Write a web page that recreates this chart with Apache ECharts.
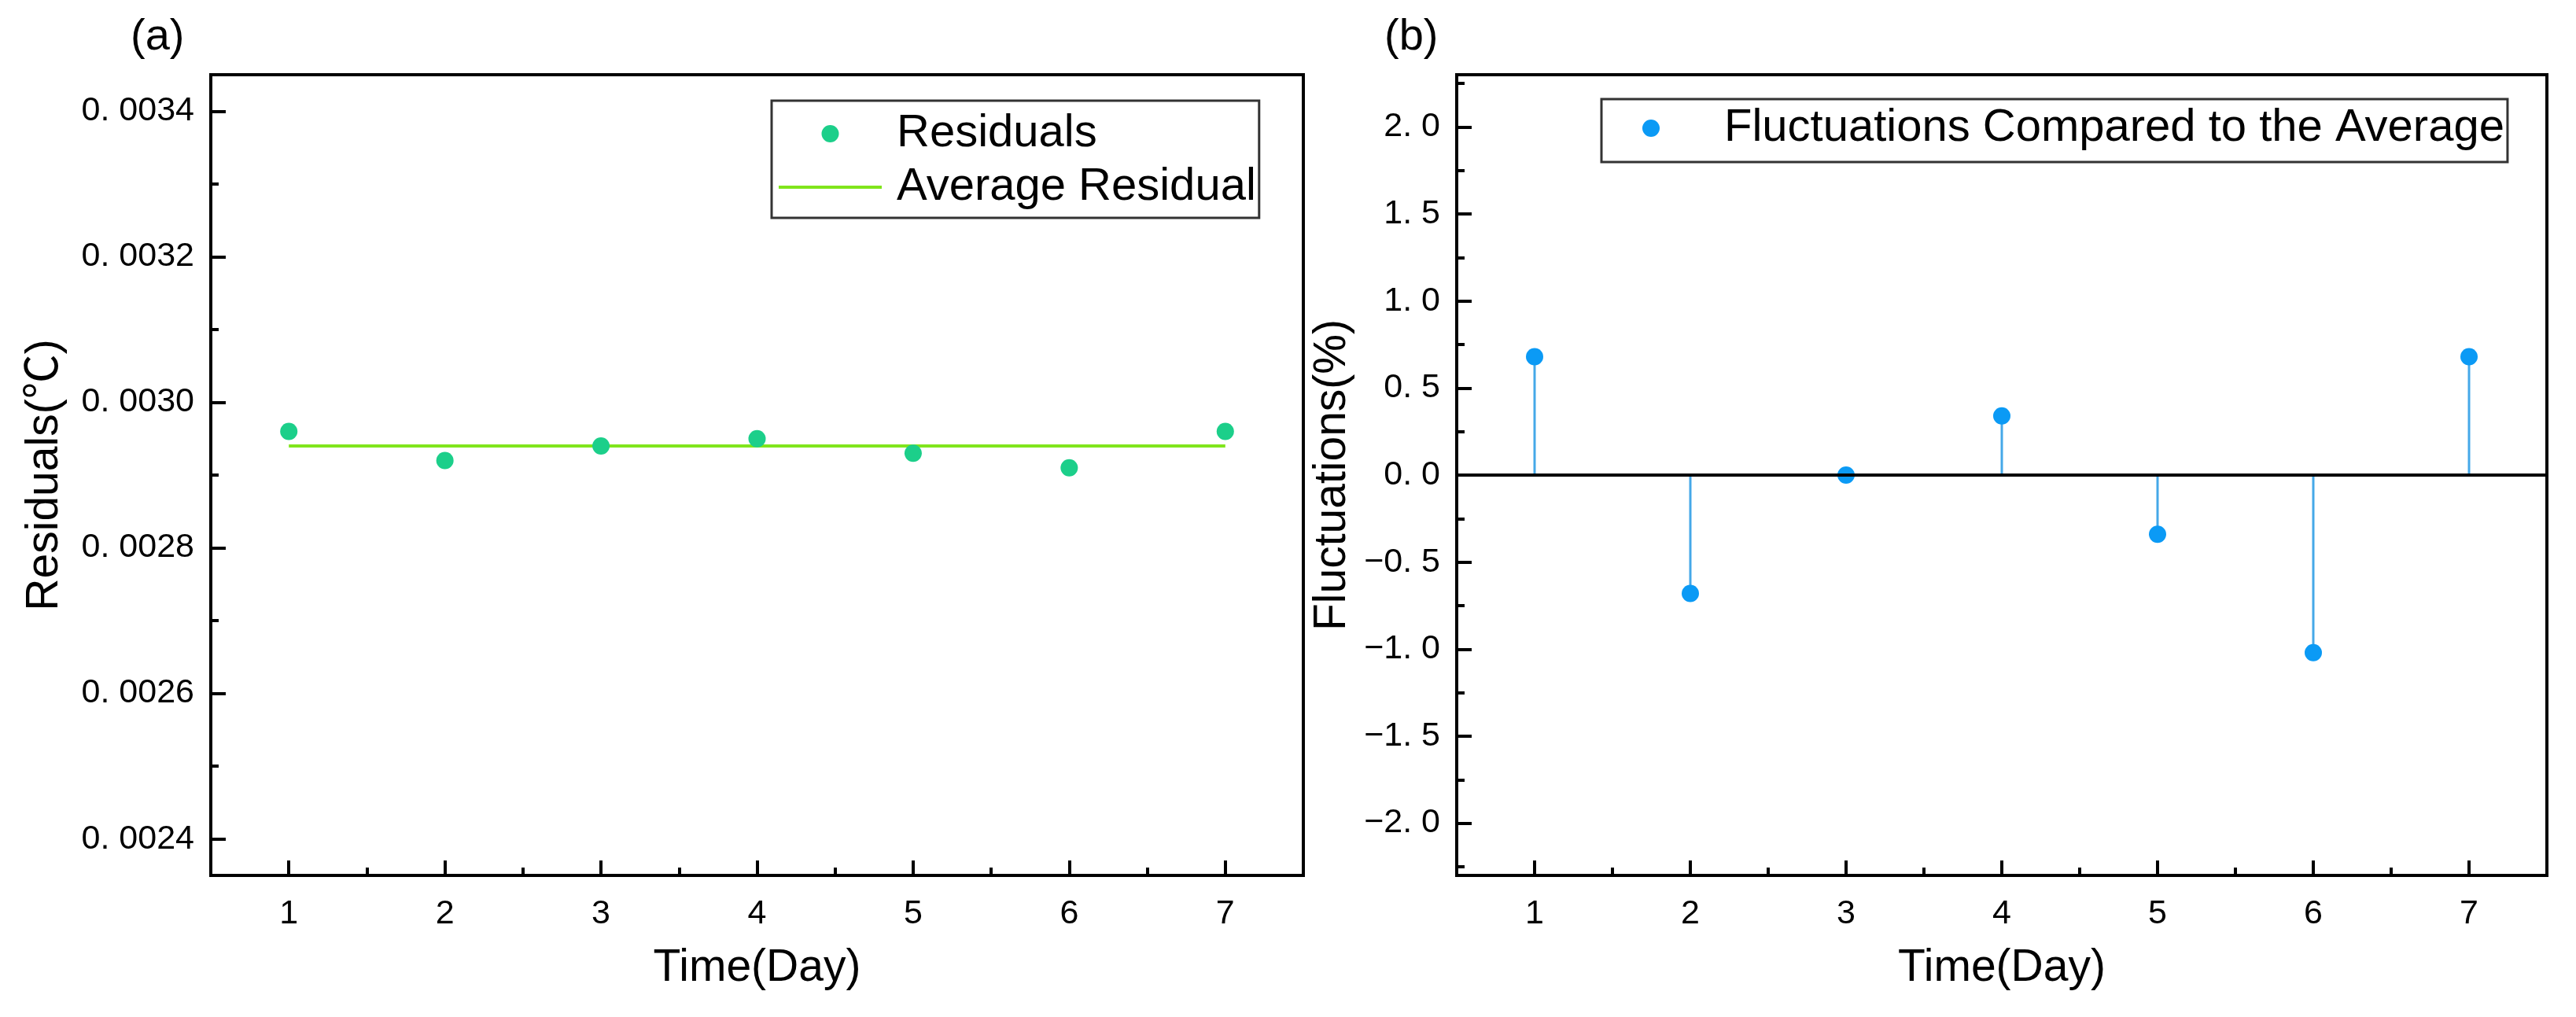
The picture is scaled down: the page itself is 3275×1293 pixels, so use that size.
<!DOCTYPE html>
<html><head><meta charset="utf-8">
<script src="https://cdn.jsdelivr.net/npm/echarts@6/dist/echarts.min.js"></script>
<style>html,body{margin:0;padding:0;background:#fff}#c{width:3275px;height:1293px}</style>
</head><body><div id="c"></div>
<script>
// ---- data ----
const days = [1, 2, 3, 4, 5, 6, 7];
const residuals = [0.00296, 0.00292, 0.00294, 0.00295, 0.00293, 0.00291, 0.00296];
const averageResidual = 0.00294;
const fluctuations = [0.68, -0.68, 0, 0.34, -0.34, -1.02, 0.68];
const xRange = [0.5, 7.5];
const xSteps = [1, 0.5];              // major, minor
const residualRange = [0.00235, 0.00345];
const residualSteps = [0.0002, 0.0001];
const fluctRange = [-2.3, 2.3];
const fluctSteps = [0.5, 0.25];

const FONT = "'Liberation Sans', Arial, 'Noto Sans CJK SC', sans-serif";
const BLACK = '#000';
const TICK_FONT = 43;
function isMultiple(v, step) { const r = v / step; return Math.abs(r - Math.round(r)) < 1e-6; }
function fmtResidual(v) { return isMultiple(v, residualSteps[0]) ? v.toFixed(4).replace('.', '. ') : ''; }
function fmtFluct(v) { if (!isMultiple(v, fluctSteps[0])) return ''; let s = (Math.abs(v) < 1e-9 ? 0 : v).toFixed(1).replace('.', '. '); return s.replace('-', '\u2212'); }
function fmtDay(v) { return isMultiple(v, xSteps[0]) ? String(Math.round(v)) : ''; }

function majorX(gridIndex, name) {
  return {
    type: 'value', gridIndex, position: 'bottom', min: xRange[0], max: xRange[1],
    minInterval: xSteps[0], maxInterval: xSteps[0], splitNumber: 7,
    name, nameLocation: 'middle', nameGap: 90,
    nameTextStyle: { fontSize: 57, color: BLACK, fontFamily: FONT },
    axisLine: { show: true, onZero: false, lineStyle: { color: BLACK, width: 4 } },
    axisTick: { show: true, inside: true, length: 19, lineStyle: { color: BLACK, width: 4 } },
    axisLabel: { show: true, margin: 28, fontSize: TICK_FONT, color: BLACK, fontFamily: FONT, formatter: fmtDay, showMinLabel: false, showMaxLabel: false },
    splitLine: { show: false }
  };
}
function minorX(gridIndex) {
  return {
    type: 'value', gridIndex, position: 'bottom', min: xRange[0], max: xRange[1],
    minInterval: xSteps[1], maxInterval: xSteps[1], splitNumber: 14,
    axisLine: { show: false, onZero: false },
    axisTick: { show: true, inside: true, length: 10, lineStyle: { color: BLACK, width: 4 } },
    axisLabel: { show: false }, splitLine: { show: false }
  };
}
function majorY(gridIndex, range, step, fmt, name, nameGap, split) {
  return {
    type: 'value', gridIndex, position: 'left', min: range[0], max: range[1],
    minInterval: step, maxInterval: step, splitNumber: split,
    name, nameLocation: 'middle', nameGap,
    nameTextStyle: { fontSize: 57, color: BLACK, fontFamily: FONT },
    axisLine: { show: true, onZero: false, lineStyle: { color: BLACK, width: 4 } },
    axisTick: { show: true, inside: true, length: 19, lineStyle: { color: BLACK, width: 4 } },
    axisLabel: { show: true, margin: 21, fontSize: TICK_FONT, color: BLACK, fontFamily: FONT, formatter: fmt, showMinLabel: false, showMaxLabel: false },
    splitLine: { show: false }
  };
}
function minorY(gridIndex, range, step, split) {
  return {
    type: 'value', gridIndex, position: 'left', min: range[0], max: range[1],
    minInterval: step, maxInterval: step, splitNumber: split,
    axisLine: { show: false, onZero: false },
    axisTick: { show: true, inside: true, length: 10, lineStyle: { color: BLACK, width: 4 } },
    axisLabel: { show: false }, splitLine: { show: false }
  };
}
function legendText(gap) {
  return {
    fontSize: 58, color: BLACK, fontFamily: FONT,
    rich: { sp: { width: gap, fontSize: 58, fontFamily: FONT } }
  };
}

const chart = echarts.init(document.getElementById('c'), null, { renderer: 'canvas' });
chart.setOption({
  animation: false,
  backgroundColor: '#fff',
  title: [
    { text: '(a)', left: 166, top: 20, padding: 0, textStyle: { fontSize: 56, fontWeight: 'normal', color: BLACK, fontFamily: FONT } },
    { text: '(b)', left: 1760, top: 20, padding: 0, textStyle: { fontSize: 56, fontWeight: 'normal', color: BLACK, fontFamily: FONT } }
  ],
  grid: [
    { left: 268, top: 95, width: 1389, height: 1018, show: true, borderColor: BLACK, borderWidth: 4, backgroundColor: 'transparent', containLabel: false, outerBoundsMode: 'none' },
    { left: 1852, top: 95, width: 1386, height: 1018, show: true, borderColor: BLACK, borderWidth: 4, backgroundColor: 'transparent', containLabel: false, outerBoundsMode: 'none' }
  ],
  xAxis: [majorX(0, 'Time(Day)'), minorX(0), majorX(1, 'Time(Day)'), minorX(1)],
  yAxis: [
    majorY(0, residualRange, residualSteps[0], fmtResidual, 'Residuals(\u2103)', 182, 5),
    minorY(0, residualRange, residualSteps[1], 11),
    majorY(1, fluctRange, fluctSteps[0], fmtFluct, 'Fluctuations(%)', 129, 9),
    minorY(1, fluctRange, fluctSteps[1], 18)
  ],
  legend: [
    {
      orient: 'vertical', left: 981, top: 128, padding: [13, 4, 10, 7], itemGap: 10,
      itemWidth: 131, itemHeight: 22, borderColor: '#333', borderWidth: 3, borderRadius: 0,
      backgroundColor: '#fff', selectedMode: false,
      formatter: name => '{sp| }' + name,
      textStyle: legendText(14),
      data: [
        { name: 'Residuals' },
        { name: 'Average Residual', itemStyle: { color: 'rgba(0,0,0,0)', opacity: 0, borderWidth: 0 }, lineStyle: { color: '#80e51c', width: 4 } }
      ]
    },
    {
      orient: 'vertical', left: 2036, top: 126, width: 1200, padding: [8, 4, 14, 52], itemGap: 10,
      itemWidth: 106, itemHeight: 22, borderColor: '#333', borderWidth: 3, borderRadius: 0,
      backgroundColor: '#fff', selectedMode: false,
      formatter: name => '{sp| }' + name,
      textStyle: legendText(35),
      data: [{ name: 'Fluctuations Compared to the Average', icon: 'circle' }]
    }
  ],
  series: [
    {
      name: 'Average Residual', type: 'line', xAxisIndex: 0, yAxisIndex: 0,
      data: days.map(d => [d, averageResidual]), symbol: 'none', showSymbol: false, color: '#80e51c',
      lineStyle: { color: '#80e51c', width: 4 }, silent: true, z: 2
    },
    {
      name: 'Residuals', type: 'scatter', xAxisIndex: 0, yAxisIndex: 0,
      data: days.map((d, i) => [d, residuals[i]]), symbol: 'circle', symbolSize: 22,
      itemStyle: { color: '#1ccf8a', opacity: 1 }, color: '#1ccf8a', silent: true, z: 3
    },
    {
      name: 'stem', type: 'bar', xAxisIndex: 2, yAxisIndex: 2, barWidth: 3,
      data: days.map((d, i) => [d, fluctuations[i]]), itemStyle: { color: '#45a8e8' }, silent: true, z: 2,
      markLine: { silent: true, symbol: ['none', 'none'], label: { show: false },
        lineStyle: { color: BLACK, width: 4, type: 'solid' }, emphasis: { disabled: true },
        data: [{ yAxis: 0 }] }
    },
    {
      name: 'Fluctuations Compared to the Average', type: 'scatter', xAxisIndex: 2, yAxisIndex: 2,
      data: days.map((d, i) => [d, fluctuations[i]]), symbol: 'circle', symbolSize: 22,
      itemStyle: { color: '#0b9af5', opacity: 1 }, color: '#0b9af5', silent: true, z: 4
    }
  ]
});
</script></body></html>
